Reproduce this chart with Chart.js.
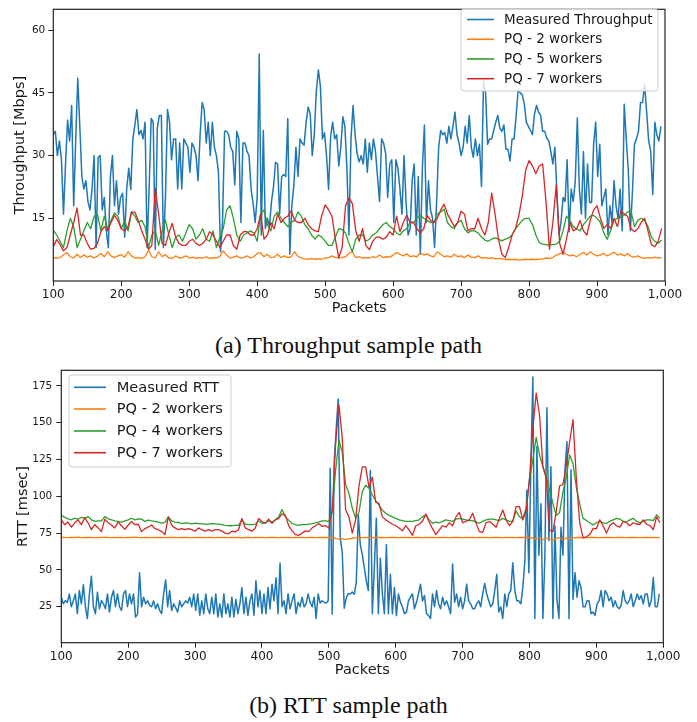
<!DOCTYPE html>
<html><head><meta charset="utf-8">
<script src="https://cdn.jsdelivr.net/npm/chart.js@4.4.0/dist/chart.umd.min.js"></script>
<style>
html,body{margin:0;padding:0;background:#fff;width:697px;height:722px;overflow:hidden;}
canvas{position:absolute;left:0;}
#c1{top:0;}
#c2{top:360px;}
.cap{position:absolute;left:0;width:697px;text-align:center;font-family:"Liberation Serif","Times New Roman",serif;font-size:24px;line-height:28px;color:#111;}
</style></head><body>
<canvas id="c1" width="697" height="330"></canvas>
<div class="cap" style="top:331px">(a) Throughput sample path</div>
<canvas id="c2" width="697" height="330"></canvas>
<div class="cap" style="top:691px">(b) RTT sample path</div>
<script>
// ---------- data ----------
const FIRST_PACKET = 100;
const FINE_STEP = 3;    // packets between samples of measured series
const COARSE_STEP = 5;  // packets between samples of PQ series
const packetTicks = [100, 200, 300, 400, 500, 600, 700, 800, 900, 1000];
const throughputTicks = [15, 30, 45, 60];
const rttTicks = [25, 50, 75, 100, 125, 150, 175];

const throughputLabels = ['Measured Throughput', 'PQ - 2 workers', 'PQ - 5 workers', 'PQ - 7 workers'];
const rttLabels = ['Measured RTT', 'PQ - 2 workers', 'PQ - 4 workers', 'PQ - 7 workers'];

const measuredThroughput = [
35,35.8,30,33.5,29,16,28,38.5,33.5,42,
18,34,48.5,37,25,22,24,19,17,22,
30,8,29.6,30,17,20,12,8,25,30,
18,24,16,20,21,10.5,22,27,21.9,34,
37.3,41,35,36,34,38,8,22,38.9,38,
7.6,36.5,39.6,39.6,8,20,41,38,29,34,
34,22,33,22,34,33,32,26,33,32,
30,24,35,42.7,41,33,38,30,38,32,
30,26,7,14,35.8,35.8,35,32,31,23,
35.8,34,14,33,33,31,30,22,18.5,14,
20,54.3,11,36,12.6,15,13,19,22.6,28.4,
28,16,25,25.5,25,38.9,6.4,18,23,32,
25,34,33,32.5,38,41.6,40,30,35,45.4,
50.5,46.6,34,35.5,30,21.9,34.5,38,34,35,
27.5,32,39.3,37,27,11,34,42,35,30.5,
28.5,30,28,34,26,33,29,34,31,25,
19,34,33,30.5,20,28,29,14,29,27,
22,16,30,19,11,12.5,24,28,11,25,
6.4,27,37.3,14,24,17,15,8,19,32,
36,35,35.5,33,37,34,37,40.4,35,33,
30,32,37,33,39.6,32,29.6,34,30,32.7,
22.6,47.8,45,32.7,34,34,36,38,39.6,36.5,
35.8,37.3,31.5,31.5,28.7,34,34,39.6,45.8,45,
44.6,42.3,38,37,36,35,40,42,40.4,39.6,
35.8,35.8,34.2,33.5,31,28,32,21,11,14,
20,19,29,11.8,22,19,24,39,22,16,
31,15,28,18.8,18.8,32.7,38,25,32.7,18,
20,22,11,18,14,24,18,15,22,12,
42.3,34,26.5,12,21,32.7,34,35.8,42.7,42.7,
47,40.4,33.5,31,20.7,38,35,33.5,37];

const pq2Throughput = [
5.6,5.5,5.6,6.2,6.8,5.8,5.5,6.4,5.6,6.3,
5.7,6.0,5.5,5.9,6.6,5.8,7.0,6.0,5.6,6.0,
6.3,5.7,7.0,6.0,5.5,5.6,5.4,5.8,7.4,5.8,
5.5,7.0,5.8,6.3,5.5,5.4,6.0,5.5,5.6,6.0,
5.5,5.7,5.4,5.6,5.5,5.8,5.4,5.6,5.5,5.9,
7.2,6.2,5.5,5.7,6.0,5.5,5.6,6.0,5.5,5.8,
6.6,6.8,5.8,6.4,5.6,5.7,6.4,5.6,6.0,5.6,
5.8,7.0,5.9,5.5,5.3,5.2,5.4,5.2,5.3,5.2,
5.5,5.6,6.0,5.6,5.5,5.6,5.8,6.6,7.0,5.6,
5.8,5.5,5.6,5.5,5.8,5.6,6.2,5.6,5.8,5.7,
6.2,6.8,6.4,6.0,6.5,5.8,6.0,5.8,6.8,6.2,
6.5,6.0,5.8,7.0,6.4,5.8,6.0,5.7,6.4,5.8,
6.0,5.6,6.2,5.7,5.6,6.0,5.5,5.6,5.4,5.6,
5.3,5.4,5.3,5.1,5.2,5.1,5.2,5.0,5.1,5.2,
5.1,5.2,5.1,5.2,5.3,5.5,5.4,5.6,6.2,6.5,
6.8,6.4,6.0,6.2,5.8,6.4,6.8,6.2,7.0,6.4,
6.0,6.2,6.6,6.0,6.4,6.9,6.2,6.5,6.0,6.6,
5.9,5.7,6.0,5.6,5.4,5.6,5.5,5.7,5.5,5.6];

const pq5Throughput = [
12.2,11,9.5,8,12,15,13,8,10,12,
14,12.5,15.5,16,12,15.5,12.5,14.5,16.3,15.5,
12.5,14.5,12,16.5,15.5,14,14.5,13,8,11,
12,8.5,12,14.5,11,8,10.5,11,9.5,11.5,
13.5,12.5,10,11,12.5,10,9.5,12,8,10.5,
12.5,17,18,15,11,9.5,11,11.5,12,11.5,
9.5,16,17,13.5,12,15.5,16.5,15,14,13,
14,14.5,16.5,15.5,13.5,12.5,11,10,11,10.5,
9.5,8.5,8.5,10.5,12.5,12.3,11.5,9,7,10,
11,11,9.5,10,11,11.5,12.5,13.5,14,13,
12.5,11.5,11,12,12.5,14,14,15,15.7,15,
14.5,14,14,16,16.5,17.2,14,13,12.5,14,
14.5,12.5,11.5,12,12,11.5,10.5,9.8,9.5,10,
10.3,10,9.6,10,10.3,11,12.5,13.5,14.5,15,
15,13.5,11,9.2,8.8,8.7,8.6,8.7,8.8,9.5,
12,15.5,14.5,13,12.5,12,13.5,14.5,15.5,15.7,
15,14,11.5,10,12,14.5,15,15.2,15.8,16.5,
16.8,13,14.5,15,14.5,13,10.5,9.5,9,9.8];

const pq7Throughput = [
8.2,9.9,8.7,7.2,8,11,14,17.5,11,11,
9,7.6,7.8,9,11.8,13,12,14,15.7,14.5,
12.5,12,13,16.5,16.5,14.5,12,10,7.6,8.5,
22.2,16,9,8.5,11.5,13.8,10.5,9,8.5,8.5,
9.5,10,9,8.5,9,10,11.8,11,9.5,8,
9.5,11,11,8.5,7.6,11,11.8,11.8,11,11,
12.5,16,10,11,14,12.5,16,14,15,15.5,
16.8,14.5,14,14,15,13.5,12.5,12,11.8,15.7,
18.2,17,15.5,10,5.6,8,18,19.9,18.5,12,
9.5,12.5,8.5,7.5,9.5,10.5,10.5,10,10.5,11.8,
11,15.5,11.8,14,15.7,14,14,12.5,11.5,12.5,
15.7,14.5,14,15,17,18.4,16,14.5,13,14,
16.7,16,12,12.5,12.5,15,12.5,11,14,21,
16,10,6.4,5.6,8,11,12.5,15.7,20.3,26.5,
28.8,27.5,25.7,27.5,28,18.8,7.6,14,23,9,
6.4,10,14,12,12.5,14.5,12,11,14.5,17,
18,15,12.6,13.5,12.6,15,13,16.8,16,15.5,
12.5,11.8,12.5,14,15,12,8.7,8.2,9.5,12.6];

const measuredRtt = [
31.5,27,29.2,28,33.7,25,29,33.7,20.3,36,
27,40,25,17,33.7,45.7,25,20.3,34.8,23.6,
29.2,27,23.6,33.7,21.4,31.5,36,25,33.7,25,
22.5,33.7,36,25,33.7,27,33.7,18,20,48,
25,31.5,27,29,26,25,29,23.6,27,22.5,
20.3,33.7,43.2,25,36,22.5,27,24.3,21.4,29,
25,27,29,27.5,31.5,25,33.7,22.5,33.7,19.2,
29,20.3,33.7,23.6,20.3,31.5,20.3,33.7,18,27,
18,33.7,20.3,27,18,31.5,18,30,20.3,27,
38,20.3,31.5,19.2,29,33.7,19.2,42.6,25,36,
20.3,33.7,20.3,38,23.6,40.3,29,44.7,20.3,54.7,
25,29,20.3,33.7,23.6,29,33.7,20.3,28,25,
31.5,25,27,33.7,28,25,31.5,17,33.7,27.5,
29,28,27.5,29,119,20,123,146,166,72,
62,24,31,34,33.7,35,33.5,41.4,87.3,67.2,
60.5,51.6,42.6,36,117.5,20.3,51.6,85,20.3,58,
33.7,20.3,67.3,20.3,47,20.3,38,19,33.7,28,
25,20.3,21.4,29,31.5,33.7,23.6,28,33.7,40.3,
29,32.6,20.3,19.2,17,33.7,25,36,27,23.6,
31.5,26,29,25,20.3,54,28,33.7,25,31.5,
23.6,29,40.3,29,27,23.6,23.6,27,29,25,
33.7,40.8,33.7,29,25,27,36,47,21.4,25,
17,33.7,25,33.7,36,54.9,36,29,29,27,
38,56,104,48,120,181,17,134,60,95,
17,60,160,70,120,17,80,30,17,79,
60,118,137,17,118,30,48,31.5,42.6,38,
25,25,29,29,20.3,21.4,19.2,27,29,36,
25,36,33.7,29,31.5,25,29,25,23.6,26,
36,29,27,29,33.7,25,29,33.7,30,32.6,
27,33.7,33.7,25,29,44.8,25,25,33.7];

const pq2Rtt = [
72.2,72.0,71.9,72.1,72.0,72.2,71.9,72.0,72.1,72.0,
71.9,72.1,72.0,72.2,72.0,71.9,72.1,72.0,72.0,71.9,
72.1,72.0,72.2,72.0,71.9,72.0,72.1,71.9,72.0,72.0,
72.1,71.9,72.0,72.1,72.0,71.9,72.0,72.1,72.0,71.9,
72.0,72.1,72.0,71.9,72.1,72.0,71.9,72.0,72.1,72.0,
71.9,72.0,72.1,72.0,71.8,72.0,72.1,71.9,72.0,72.0,
72.1,71.9,72.0,72.1,72.0,71.9,72.0,72.0,72.1,71.9,
72.0,72.1,72.0,71.9,72.0,72.1,71.9,72.0,72.0,72.1,
72.0,71.8,71.5,70.8,71.2,70.5,71.0,71.5,71.8,72.0,
71.9,72.0,72.1,71.9,72.0,72.1,72.0,71.9,72.0,72.1,
72.0,71.9,72.0,72.1,72.0,71.9,72.0,72.1,71.9,72.0,
72.1,72.0,71.9,72.0,72.1,72.0,71.9,72.0,72.0,72.1,
71.9,72.0,72.1,72.0,71.9,72.0,72.1,72.0,71.9,72.0,
72.1,72.0,71.9,72.0,72.1,72.0,71.9,72.0,72.1,72.0,
72.0,71.5,71.0,71.5,70.5,71.8,71.0,70.0,71.5,71.8,
70.5,71.5,71.0,71.8,72.0,72.1,72.0,71.9,72.0,72.1,
72.0,71.9,72.0,72.1,72.0,71.9,72.0,72.1,72.0,71.9,
72.0,72.1,72.0,71.9,72.0,72.1,72.0,72.0,71.9,72.0];

const pq4Rtt = [
87.3,85.6,84.7,84,85.1,84.5,85.6,85.1,86.2,84,
82.9,83.3,83.3,86.2,84.7,84,83.3,82.9,82.4,83.3,
84,85.1,84,84.7,84.5,82.9,83.8,83.3,82.9,82.4,
81.8,82.2,86,83.3,82.4,82.2,81.5,82,81.8,81.3,
81.8,81.5,81.3,81.1,81.1,81.5,81.3,81.1,80.7,80.2,
80,80,80.2,80.2,84,81.1,80.7,80.7,81.1,83.3,
81.5,82,83.3,82.4,84,86,91,86,83.8,81.5,
80.7,80.2,80.7,80.7,81.1,81.5,82,82.6,83.3,83.3,
82.9,90,117,138,130,108,102,92,85,89,
103,107.5,105.5,101,97,94,90.5,88.5,87,86,
85,84,83.5,83,83,83,83.5,84,86,87.4,
84,81.7,82.5,82,83,84,83.5,83,84.5,85,
84.5,84,83.5,83.5,82.5,81.7,83,84,84.5,84.5,
84,83.5,85,84,83,83,90,86,85,92,
112,125,140,128,120,114,104,95,87,89,
103,113,128,122,106,95,85,83.5,82,80.6,
82,83,82,81.5,83,84,85,84.5,83,82.5,
84,85,83,82,83,84,84,83.5,87.4,85];

const pq7Rtt = [
84,80.7,82.5,79,81.8,84,80.7,85.5,82,77.3,
80.7,78.5,76,84.5,82,80.5,78.5,82.5,80,77.5,
80.5,82.9,80.7,81,76,78,79,80.5,78,77.3,
76,74,86,80.5,78.5,77.3,78,77.3,78,77.3,
76.3,78.5,77.3,76.3,77.3,76.3,77.3,77.3,76.3,75,
74.5,76.3,75.8,77.3,85,78.5,77.3,76.3,78.5,85,
82.9,81.7,84.5,81.7,84,85,88,87,80,76.5,
74,73.5,75,76.5,76,78.5,80,81.5,79.5,80,
78.4,90,135,162,140,91,86,75,84,107,
120,120,106,113,96,95,86,84,82.5,81,
80,78.5,76.5,80,77,73.5,80,81,83,88,
82.5,78,74,77,80,79,82,80,86,89,
82,83,84,88.5,82,76,75.5,82,83,81,
79,85,90.7,84,80,83,93,93,84,90,
112,146,170,155,120,112,77,76,90,107,
108,121,137,152,112,82,71.7,72.5,74,78,
78,84,80,75,80,82,80,79,83,82,
80,82,81,81,84,81,80,77.3,86,82];

// ---------- helpers ----------
function toPoints(values, step) {
  return values.map((v, i) => ({x: FIRST_PACKET + step * i, y: v}));
}
const COLORS = ['#1f77b4', '#ff7f0e', '#2ca02c', '#d62728'];
const TEXT = '#1a1a1a';
const FONT = '"DejaVu Sans", sans-serif';

const framePlugin = {
  id: 'mplFrame',
  afterDatasetsDraw(chart, args, opts) {
    const ctx = chart.ctx, a = chart.chartArea;
    ctx.save();
    ctx.strokeStyle = '#222'; ctx.lineWidth = 1.2;
    ctx.strokeRect(a.left, a.top, a.right - a.left, a.bottom - a.top);
    const b = opts.box;
    ctx.beginPath();
    if (ctx.roundRect) ctx.roundRect(b[0], b[1], b[2], b[3], 3); else ctx.rect(b[0], b[1], b[2], b[3]);
    ctx.fillStyle = 'rgba(255,255,255,0.8)'; ctx.fill();
    ctx.strokeStyle = '#cccccc'; ctx.lineWidth = 1; ctx.stroke();
    ctx.font = opts.fontSize + 'px ' + FONT;
    ctx.textBaseline = 'middle'; ctx.textAlign = 'left';
    chart.data.datasets.forEach((ds, k) => {
      const y = opts.rows[k];
      ctx.beginPath(); ctx.moveTo(opts.line[0], y); ctx.lineTo(opts.line[1], y);
      ctx.strokeStyle = ds.borderColor; ctx.lineWidth = 1.6; ctx.stroke();
      ctx.fillStyle = TEXT;
      ctx.fillText(ds.label, opts.textX, y + 0.5);
    });
    ctx.restore();
  }
};

function makeDatasets(labels, series) {
  return series.map((s, k) => ({
    label: labels[k],
    data: toPoints(s.values, s.step),
    borderColor: COLORS[k],
    backgroundColor: COLORS[k],
    borderWidth: k === 0 ? 1.5 : 1.3,
    pointRadius: 0,
    tension: 0,
    fill: false,
    borderJoinStyle: 'round',
    order: 4 - k
  }));
}

function makeChart(id, o) {
  return new Chart(document.getElementById(id), {
    type: 'line',
    data: {datasets: makeDatasets(o.labels, o.series)},
    options: {
      responsive: false, animation: false, devicePixelRatio: 1,
      layout: {padding: {left: 0, right: o.padRight, top: o.padTop, bottom: 0}},
      plugins: {legend: {display: false}, tooltip: {enabled: false}, mplFrame: o.legend},
      scales: {
        x: {
          type: 'linear', min: 100, max: 1000,
          afterBuildTicks: s => { s.ticks = packetTicks.map(v => ({value: v})); },
          afterFit: s => { s.height = o.xHeight; },
          ticks: {font: {family: FONT, size: o.xTickSize}, color: TEXT, maxRotation: 0, autoSkip: false, padding: 2},
          grid: {display: true, drawOnChartArea: false, drawTicks: true, tickLength: 5, tickColor: '#222', tickWidth: 1},
          border: {display: false},
          title: {display: true, text: 'Packets', color: TEXT, font: {family: FONT, size: 14.5}, padding: {top: 0, bottom: o.xTitlePad}}
        },
        y: {
          type: 'linear', min: o.yMin, max: o.yMax,
          afterBuildTicks: s => { s.ticks = o.yTicks.map(v => ({value: v})); },
          afterFit: s => { s.width = o.yWidth; },
          ticks: {font: {family: FONT, size: o.yTickSize}, color: TEXT, padding: o.yTickPad},
          grid: {display: true, drawOnChartArea: false, drawTicks: true, tickLength: 5, tickColor: '#222', tickWidth: 1},
          border: {display: false},
          title: {display: true, text: o.yTitle, color: TEXT, font: {family: FONT, size: 14.5}, padding: {top: o.yTitlePad, bottom: 0}}
        }
      }
    },
    plugins: [framePlugin]
  });
}

makeChart('c1', {
  labels: throughputLabels,
  series: [
    {values: measuredThroughput, step: FINE_STEP},
    {values: pq2Throughput, step: COARSE_STEP},
    {values: pq5Throughput, step: COARSE_STEP},
    {values: pq7Throughput, step: COARSE_STEP}
  ],
  padRight: 32, padTop: 1, xHeight: 49, yWidth: 53.3,
  xTickSize: 12, yTickSize: 10.5, yTickPad: 3, xTitlePad: 13, yTitlePad: 12,
  yMin: 0, yMax: 65, yTicks: throughputTicks, yTitle: 'Throughput [Mbps]',
  legend: {box: [461, 9, 197, 82], rows: [19.5, 39.3, 59, 78.7], line: [467, 494], textX: 504, fontSize: 13.5}
});

makeChart('c2', {
  labels: rttLabels,
  series: [
    {values: measuredRtt, step: FINE_STEP},
    {values: pq2Rtt, step: COARSE_STEP},
    {values: pq4Rtt, step: COARSE_STEP},
    {values: pq7Rtt, step: COARSE_STEP}
  ],
  padRight: 33.7, padTop: 7.3, xHeight: 47.3, yWidth: 61.3,
  xTickSize: 12, yTickSize: 10.5, yTickPad: 4, xTitlePad: 11.5, yTitlePad: 14.3,
  yMin: 0.6, yMax: 185.5, yTicks: rttTicks, yTitle: 'RTT [msec]',
  legend: {box: [69, 15, 162, 92], rows: [27.3, 49, 71, 92.7], line: [74, 106], textX: 116.7, fontSize: 14.6}
});
</script>
</body></html>
